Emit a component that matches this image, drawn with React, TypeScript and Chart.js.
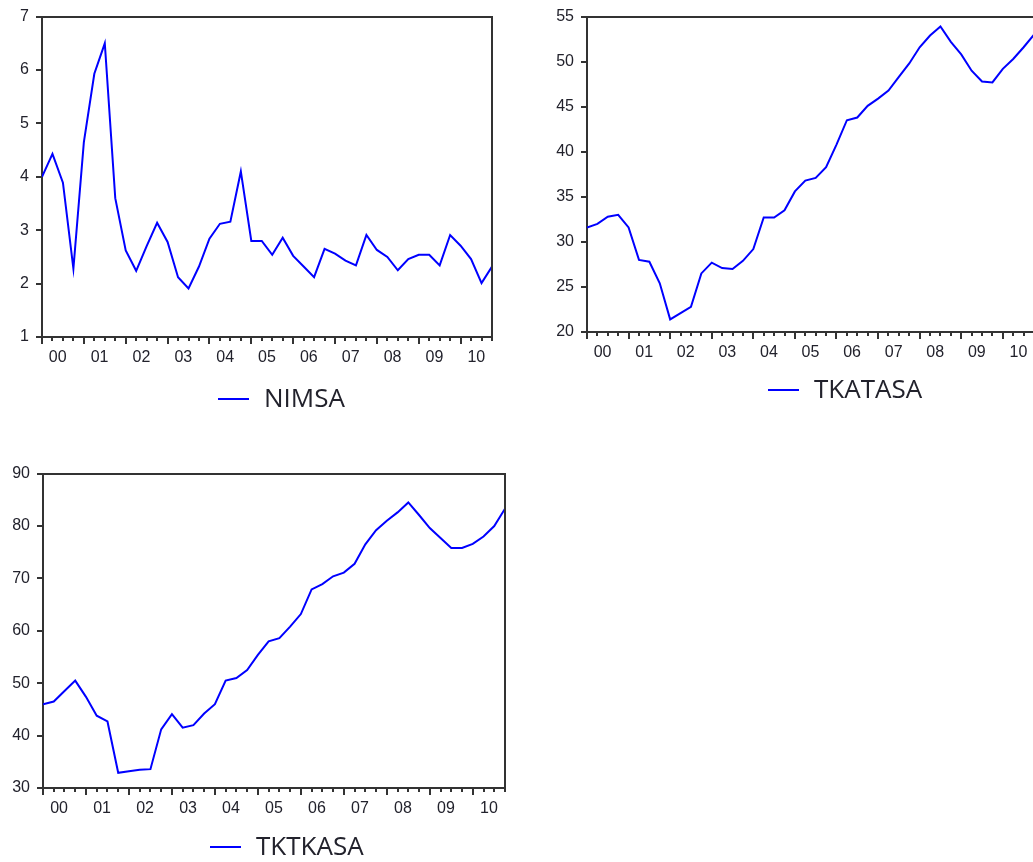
import React, { useEffect, useRef } from "react";
import { Chart, registerables } from "chart.js";

Chart.register(...registerables);

// ---- data (quarterly, 2000Q1 .. 2010Q4) ----
const yearLabels = ["00", "01", "02", "03", "04", "05", "06", "07", "08", "09", "10"];
const quarterNames = ["Q1", "Q2", "Q3", "Q4"];
const quarters: string[] = yearLabels.flatMap((y) => quarterNames.map((q) => "20" + y + q));

const nimsa = [4.0, 4.43, 3.89, 2.28, 4.65, 5.93, 6.5, 3.6, 2.62, 2.24, 2.7, 3.14, 2.78, 2.12, 1.91, 2.32,
  2.84, 3.12, 3.16, 4.1, 2.8, 2.8, 2.54, 2.86, 2.52, 2.32, 2.12, 2.65, 2.56, 2.43, 2.34, 2.91,
  2.63, 2.5, 2.25, 2.46, 2.54, 2.54, 2.34, 2.91, 2.71, 2.46, 2.01, 2.32];
const tkatasa = [31.6, 32.0, 32.8, 33.0, 31.6, 28.0, 27.8, 25.4, 21.4, 22.1, 22.8, 26.5, 27.7, 27.1, 27.0, 27.9,
  29.2, 32.7, 32.7, 33.5, 35.6, 36.8, 37.1, 38.3, 40.8, 43.5, 43.8, 45.1, 45.9, 46.8, 48.3, 49.8,
  51.6, 52.9, 53.9, 52.2, 50.8, 49.0, 47.8, 47.7, 49.2, 50.3, 51.6, 53.0];
const tktkasa = [46.0, 46.5, 48.5, 50.5, 47.4, 43.8, 42.7, 32.9, 33.2, 33.5, 33.6, 41.2, 44.1, 41.5, 42.0, 44.2,
  46.0, 50.5, 51.0, 52.5, 55.4, 58.0, 58.6, 60.8, 63.2, 67.9, 68.9, 70.4, 71.1, 72.8, 76.5, 79.2,
  81.0, 82.6, 84.5, 82.1, 79.6, 77.7, 75.8, 75.8, 76.6, 78.0, 80.0, 83.3];

const nimsaTicks = [1, 2, 3, 4, 5, 6, 7];
const tkatasaTicks = [20, 25, 30, 35, 40, 45, 50, 55];
const tktkasaTicks = [30, 40, 50, 60, 70, 80, 90];

// ---- styles ----
const LINE_COLOR = "#0000ff";
const AXIS_COLOR = "#333333";
const TEXT_COLOR = "#22222c";
const TICK_FONT = "Liberation Sans";
const LEGEND_FONT = "Open Sans";

type PanelProps = {
  label: string;
  values: number[];
  yTicks: number[];
  left: number;
  top: number;
  width: number;
  height: number;
  pad: { top: number; right: number; bottom: number; left: number };
  yWidth: number;
  legendX: number;
  legendDy: number;
};

function Panel(p: PanelProps) {
  const ref = useRef<HTMLCanvasElement | null>(null);
  useEffect(() => {
    if (!ref.current) return;
    const eviewsPlugin = {
      id: "eviewsFrame",
      afterDraw(chart: any) {
        const { ctx, chartArea: a, scales } = chart;
        const xs = scales.x;
        ctx.save();
        ctx.strokeStyle = AXIS_COLOR;
        ctx.lineWidth = 2;
        ctx.beginPath();
        ctx.moveTo(Math.round(a.left), Math.round(a.top));
        ctx.lineTo(Math.round(a.right), Math.round(a.top));
        ctx.lineTo(Math.round(a.right), Math.round(a.bottom));
        ctx.stroke();
        ctx.beginPath();
        for (let i = 0; i < quarters.length; i++) {
          const px = Math.round(xs.getPixelForValue(i));
          const len = i % 4 === 0 ? 7 : 4;
          ctx.moveTo(px, Math.round(a.bottom));
          ctx.lineTo(px, Math.round(a.bottom) + len);
        }
        ctx.stroke();
        // legend
        const ly = Math.round(a.bottom + p.legendDy);
        ctx.strokeStyle = LINE_COLOR;
        ctx.lineWidth = 2;
        ctx.beginPath();
        ctx.moveTo(p.legendX, ly);
        ctx.lineTo(p.legendX + 31, ly);
        ctx.stroke();
        ctx.fillStyle = TEXT_COLOR;
        ctx.font = `26px "${LEGEND_FONT}"`;
        ctx.textBaseline = "middle";
        ctx.textAlign = "left";
        ctx.fillText(chart.data.datasets[0].label, p.legendX + 46, ly + 1);
        ctx.restore();
      },
    };
    const chart = new Chart(ref.current, {
      type: "line",
      data: {
        datasets: [
          {
            label: p.label,
            data: p.values.map((v, i) => ({ x: i, y: v })),
            borderColor: LINE_COLOR,
            borderWidth: 2,
            pointRadius: 0,
            tension: 0,
            fill: false,
          },
        ],
      },
      options: {
        animation: false,
        responsive: false,
        events: [],
        layout: { padding: p.pad },
        plugins: { legend: { display: false }, tooltip: { enabled: false } },
        scales: {
          x: {
            type: "linear",
            min: 0,
            max: quarters.length - 1,
            afterBuildTicks: (s: any) => {
              s.ticks = yearLabels.map((_, k) => ({ value: k * 4 + 1.5 }));
            },
            afterFit: (s: any) => {
              s.height = 30;
            },
            ticks: {
              autoSkip: false,
              maxRotation: 0,
              padding: 5,
              color: TEXT_COLOR,
              font: { family: TICK_FONT, size: 16 },
              callback: (v: any) => yearLabels[Math.round((Number(v) - 1.5) / 4)],
            },
            grid: { display: true, drawOnChartArea: false, drawTicks: true, tickLength: 6, color: "rgba(0,0,0,0)" },
            border: { display: true, color: AXIS_COLOR, width: 2 },
          },
          y: {
            type: "linear",
            min: p.yTicks[0],
            max: p.yTicks[p.yTicks.length - 1],
            afterBuildTicks: (s: any) => {
              s.ticks = p.yTicks.map((v) => ({ value: v }));
            },
            afterFit: (s: any) => {
              s.width = p.yWidth;
            },
            ticks: {
              padding: 7,
              color: TEXT_COLOR,
              font: { family: TICK_FONT, size: 16 },
            },
            grid: { display: true, drawOnChartArea: false, drawTicks: true, tickLength: 6, color: AXIS_COLOR, lineWidth: 2 },
            border: { display: true, color: AXIS_COLOR, width: 2 },
          },
        },
      },
      plugins: [eviewsPlugin],
    } as any);
    return () => chart.destroy();
  }, []);
  return (
    <canvas
      ref={ref}
      width={p.width}
      height={p.height}
      style={{ position: "absolute", left: p.left, top: p.top, width: p.width, height: p.height }}
    />
  );
}

export default function App() {
  return (
    <div style={{ position: "absolute", left: 0, top: 0, width: 1033, height: 862, overflow: "hidden", background: "#fff" }}>
      <Panel label="NIMSA" values={nimsa} yTicks={nimsaTicks} left={0} top={0} width={520} height={430}
        pad={{ top: 13, right: 28, bottom: 63, left: 0 }} yWidth={42} legendX={218} legendDy={62} />
      <Panel label="TKATASA" values={tkatasa} yTicks={tkatasaTicks} left={545} top={0} width={500} height={430}
        pad={{ top: 13, right: 11, bottom: 68, left: 0 }} yWidth={42} legendX={223} legendDy={58} />
      <Panel label="TKTKASA" values={tktkasa} yTicks={tktkasaTicks} left={0} top={457} width={540} height={405}
        pad={{ top: 13, right: 35, bottom: 44, left: 0 }} yWidth={43} legendX={210} legendDy={59} />
    </div>
  );
}
